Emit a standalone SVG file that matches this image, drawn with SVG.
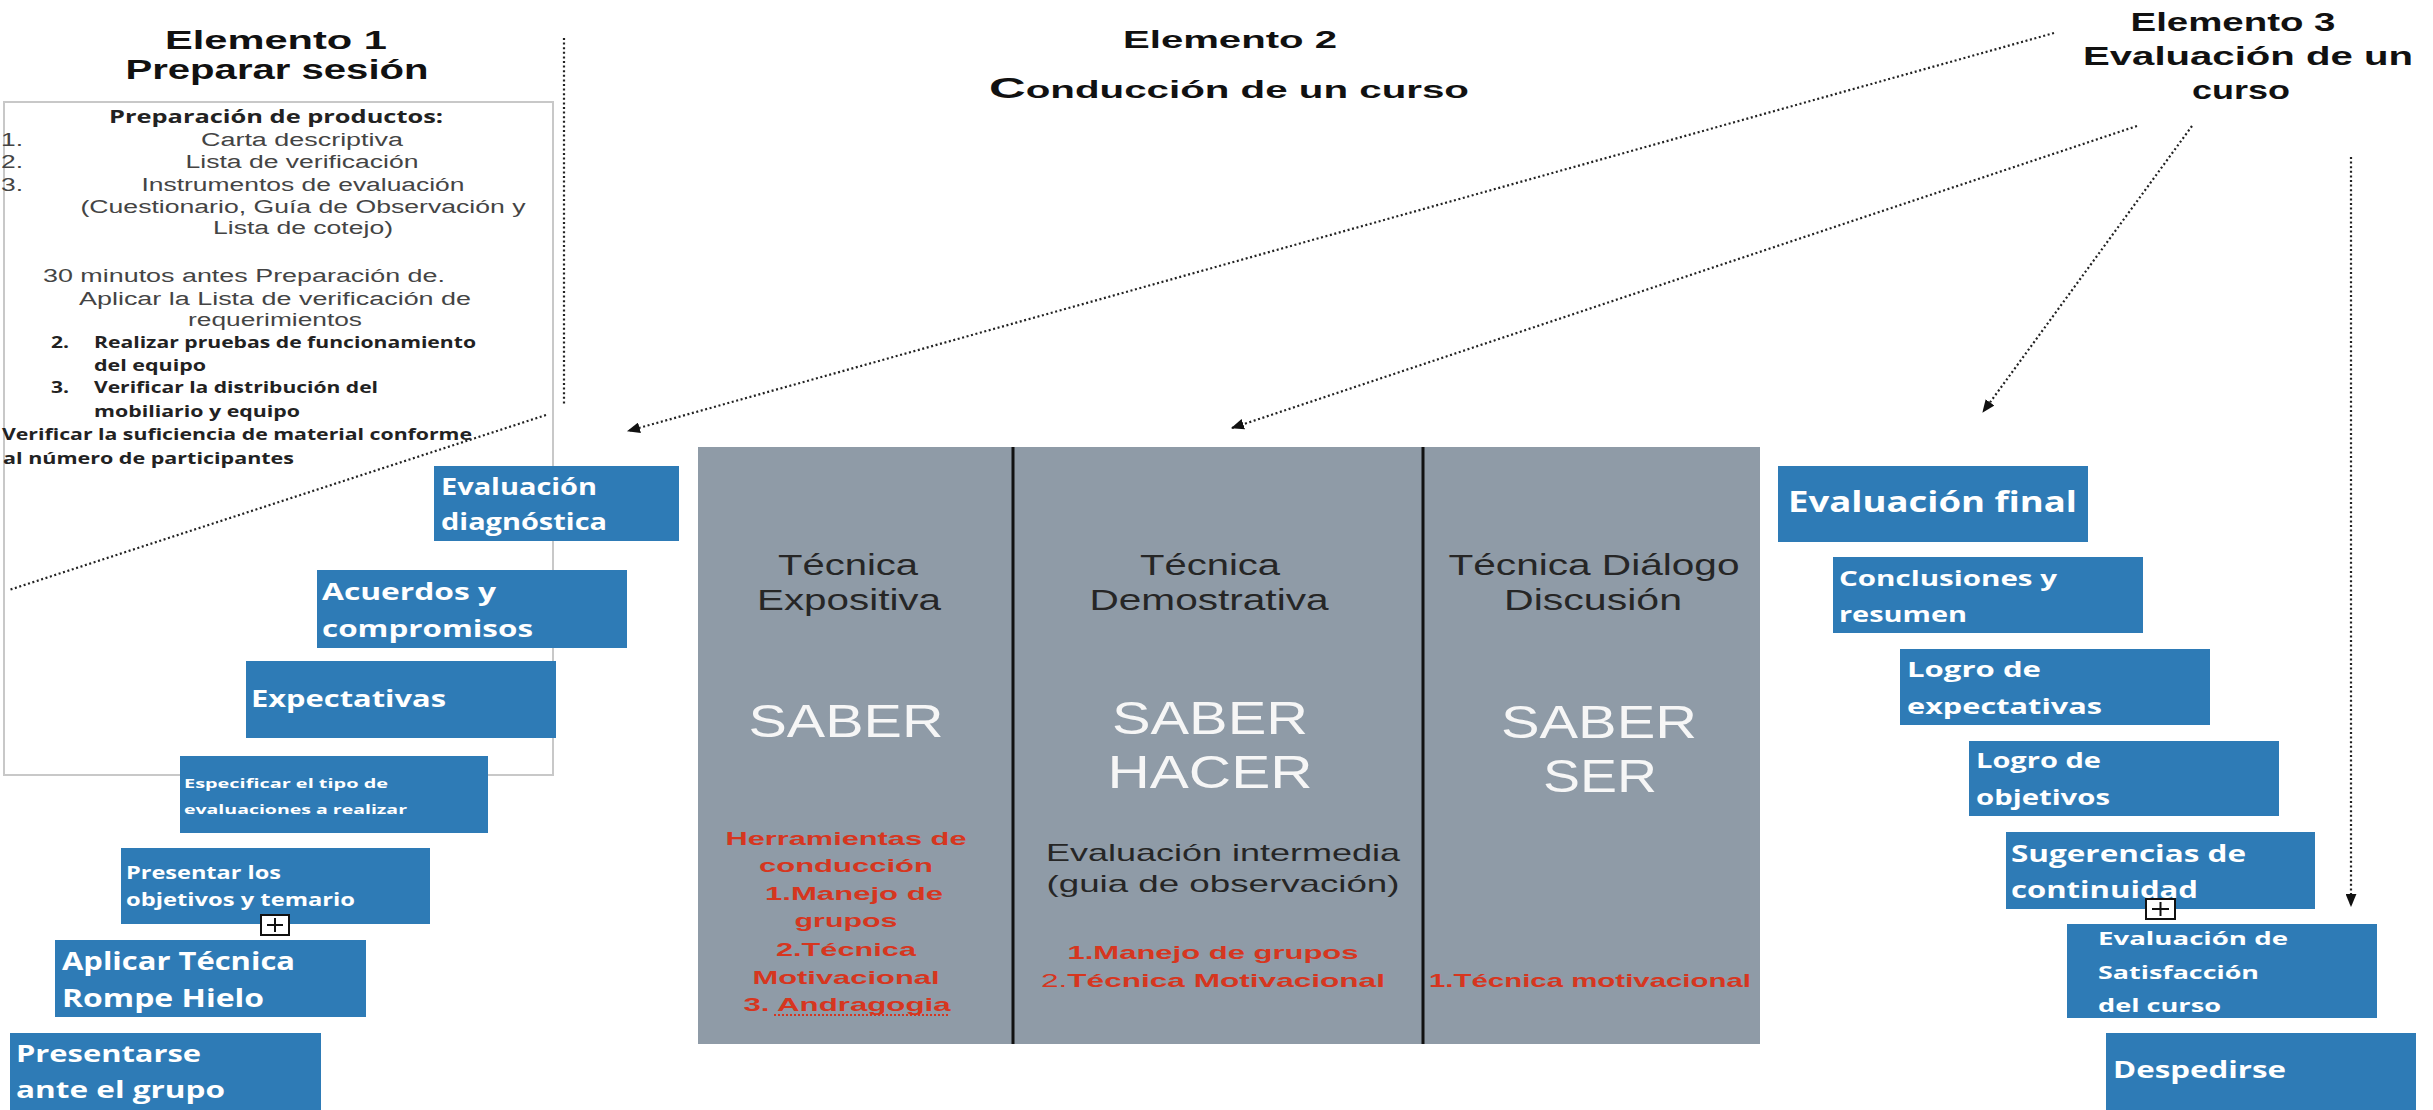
<svg xmlns="http://www.w3.org/2000/svg" width="2433" height="1110" viewBox="0 0 2433 1110">
<style>
text{font-family:"Liberation Sans",Arial,sans-serif}
.title{font-weight:bold;fill:#111}
.lst{font-size:18px;fill:#444}
.ob{font-family:"Open Sans","Liberation Sans",sans-serif;font-weight:700;fill:#222}
.blue{fill:#2e7bb6}
.bt{font-family:"Open Sans","Liberation Sans",sans-serif;font-weight:700;fill:#fff}
.tec{font-size:29px;fill:#262626}
.sab{font-size:46px;fill:#f6f6f6}
.red{font-weight:bold;fill:#d6361f;font-size:19px}
.dot{fill:none;stroke:#222;stroke-width:2.2;stroke-dasharray:2 2.6}
.icon{fill:#fff;stroke:#111;stroke-width:2}
</style>
<defs>
<marker id="ah" viewBox="0 0 12 10" refX="11" refY="5" markerWidth="13" markerHeight="11" markerUnits="userSpaceOnUse" orient="auto">
<path d="M0,0 L12,5 L0,10 z" fill="#111"/>
</marker>
</defs>
<rect x="0" y="0" width="2433" height="1110" fill="#fff"/>

<g id="elemento1">
<text class="title" x="276" y="49" font-size="26" text-anchor="middle" textLength="222" lengthAdjust="spacingAndGlyphs">Elemento 1</text>
<text class="title" x="277" y="79" font-size="27" text-anchor="middle" textLength="303" lengthAdjust="spacingAndGlyphs">Preparar sesión</text>
</g>

<g id="preparacion">
<rect x="4" y="102" width="549" height="673" fill="none" stroke="#c8c8c8" stroke-width="2"/>
<text class="ob" x="276" y="123" font-size="17" text-anchor="middle" textLength="334" lengthAdjust="spacingAndGlyphs">Preparación de productos:</text>
<text class="lst" x="1" y="146" textLength="22" lengthAdjust="spacingAndGlyphs">1.</text>
<text class="lst" x="302" y="146" text-anchor="middle" textLength="202" lengthAdjust="spacingAndGlyphs">Carta descriptiva</text>
<text class="lst" x="1" y="168" textLength="22" lengthAdjust="spacingAndGlyphs">2.</text>
<text class="lst" x="302" y="168" text-anchor="middle" textLength="233" lengthAdjust="spacingAndGlyphs">Lista de verificación</text>
<text class="lst" x="1" y="191" textLength="22" lengthAdjust="spacingAndGlyphs">3.</text>
<text class="lst" x="303" y="191" text-anchor="middle" textLength="323" lengthAdjust="spacingAndGlyphs">Instrumentos de evaluación</text>
<text class="lst" x="303" y="213" text-anchor="middle" textLength="445" lengthAdjust="spacingAndGlyphs">(Cuestionario, Guía de Observación y</text>
<text class="lst" x="303" y="234" text-anchor="middle" textLength="180" lengthAdjust="spacingAndGlyphs">Lista de cotejo)</text>
<text class="lst" x="244" y="282" text-anchor="middle" textLength="402" lengthAdjust="spacingAndGlyphs">30 minutos antes Preparación  de.</text>
<text class="lst" x="275" y="305" text-anchor="middle" textLength="392" lengthAdjust="spacingAndGlyphs">Aplicar la Lista de verificación de</text>
<text class="lst" x="275" y="326" text-anchor="middle" textLength="174" lengthAdjust="spacingAndGlyphs">requerimientos</text>
<text class="ob" x="51" y="348" font-size="16" textLength="18" lengthAdjust="spacingAndGlyphs">2.</text>
<text class="ob" x="94" y="348" font-size="16" textLength="382" lengthAdjust="spacingAndGlyphs">Realizar pruebas de funcionamiento</text>
<text class="ob" x="94" y="371" font-size="16" textLength="112" lengthAdjust="spacingAndGlyphs">del equipo</text>
<text class="ob" x="51" y="393" font-size="16" textLength="18" lengthAdjust="spacingAndGlyphs">3.</text>
<text class="ob" x="94" y="393" font-size="16" textLength="284" lengthAdjust="spacingAndGlyphs">Verificar la distribución del</text>
<text class="ob" x="94" y="417" font-size="16" textLength="206" lengthAdjust="spacingAndGlyphs">mobiliario y equipo</text>
<text class="ob" x="2" y="440" font-size="16" textLength="470" lengthAdjust="spacingAndGlyphs">Verificar la suficiencia de material conforme</text>
<text class="ob" x="3" y="464" font-size="16" textLength="291" lengthAdjust="spacingAndGlyphs">al número de participantes</text>
</g>

<g id="elemento2">
<text class="title" x="1230" y="48" font-size="23" text-anchor="middle" textLength="214" lengthAdjust="spacingAndGlyphs">Elemento 2</text>
<text class="title" x="1229" y="98" font-size="23" text-anchor="middle" textLength="480" lengthAdjust="spacingAndGlyphs"><tspan font-size="29">C</tspan>onducción de un curso</text>
</g>

<g id="elemento3">
<text class="title" x="2233" y="31" font-size="26" text-anchor="middle" textLength="205" lengthAdjust="spacingAndGlyphs">Elemento 3</text>
<text class="title" x="2248" y="65" font-size="26" text-anchor="middle" textLength="330" lengthAdjust="spacingAndGlyphs">Evaluación de un</text>
<text class="title" x="2241" y="99" font-size="26" text-anchor="middle" textLength="98" lengthAdjust="spacingAndGlyphs">curso</text>
</g>

<g id="tabla">
<rect x="698" y="447" width="1062" height="597" fill="#8f9ba7"/>
<line x1="1013" y1="447" x2="1013" y2="1044" stroke="#111" stroke-width="3"/>
<line x1="1423" y1="447" x2="1423" y2="1044" stroke="#111" stroke-width="3"/>
</g>

<g id="col-expositiva">
<text class="tec" x="848" y="575" text-anchor="middle" textLength="140" lengthAdjust="spacingAndGlyphs">Técnica</text>
<text class="tec" x="849" y="610" text-anchor="middle" textLength="184" lengthAdjust="spacingAndGlyphs">Expositiva</text>
<text class="sab" x="846" y="737" text-anchor="middle" textLength="195" lengthAdjust="spacingAndGlyphs">SABER</text>
<text class="red" x="846" y="845" text-anchor="middle" textLength="241" lengthAdjust="spacingAndGlyphs">Herramientas de</text>
<text class="red" x="846" y="872" text-anchor="middle" textLength="174" lengthAdjust="spacingAndGlyphs">conducción</text>
<text class="red" x="854" y="900" text-anchor="middle" textLength="178" lengthAdjust="spacingAndGlyphs">1.Manejo de</text>
<text class="red" x="846" y="927" text-anchor="middle" textLength="103" lengthAdjust="spacingAndGlyphs">grupos</text>
<text class="red" x="846" y="956" text-anchor="middle" textLength="140" lengthAdjust="spacingAndGlyphs">2.Técnica</text>
<text class="red" x="846" y="984" text-anchor="middle" textLength="187" lengthAdjust="spacingAndGlyphs">Motivacional</text>
<text class="red" x="847" y="1011" text-anchor="middle" textLength="207" lengthAdjust="spacingAndGlyphs">3. Andragogia</text>
<line x1="774" y1="1015" x2="950" y2="1015" stroke="#d6361f" stroke-width="2" stroke-dasharray="2 2"/>
</g>

<g id="col-demostrativa">
<text class="tec" x="1210" y="575" text-anchor="middle" textLength="140" lengthAdjust="spacingAndGlyphs">Técnica</text>
<text class="tec" x="1209" y="610" text-anchor="middle" textLength="239" lengthAdjust="spacingAndGlyphs">Demostrativa</text>
<text class="sab" x="1210" y="734" text-anchor="middle" textLength="196" lengthAdjust="spacingAndGlyphs">SABER</text>
<text class="sab" x="1210" y="788" text-anchor="middle" textLength="205" lengthAdjust="spacingAndGlyphs">HACER</text>
<text x="1223" y="861" font-size="24" fill="#262626" text-anchor="middle" textLength="354" lengthAdjust="spacingAndGlyphs">Evaluación intermedia</text>
<text x="1223" y="892" font-size="24" fill="#262626" text-anchor="middle" textLength="353" lengthAdjust="spacingAndGlyphs">(guia de observación)</text>
<text class="red" x="1213" y="959" font-size="21" text-anchor="middle" textLength="291" lengthAdjust="spacingAndGlyphs">1.Manejo de grupos</text>
<text class="red" x="1213" y="987" font-size="21" text-anchor="middle" textLength="344" lengthAdjust="spacingAndGlyphs"><tspan font-weight="normal">2.</tspan>Técnica  Motivacional</text>
</g>

<g id="col-dialogo">
<text class="tec" x="1594" y="575" text-anchor="middle" textLength="291" lengthAdjust="spacingAndGlyphs">Técnica Diálogo</text>
<text class="tec" x="1593" y="610" text-anchor="middle" textLength="178" lengthAdjust="spacingAndGlyphs">Discusión</text>
<text class="sab" x="1599" y="738" text-anchor="middle" textLength="196" lengthAdjust="spacingAndGlyphs">SABER</text>
<text class="sab" x="1600" y="792" text-anchor="middle" textLength="114" lengthAdjust="spacingAndGlyphs">SER</text>
<text class="red" x="1590" y="987" font-size="21" text-anchor="middle" textLength="322" lengthAdjust="spacingAndGlyphs">1.Técnica  motivacional</text>
</g>

<g id="evaluacion-diagnostica">
<rect class="blue" x="434" y="466" width="245" height="75"/>
<text class="bt" x="441" y="495" font-size="24" textLength="156" lengthAdjust="spacingAndGlyphs">Evaluación</text>
<text class="bt" x="441" y="530" font-size="24" textLength="166" lengthAdjust="spacingAndGlyphs">diagnóstica</text>
</g>
<g id="acuerdos">
<rect class="blue" x="317" y="570" width="310" height="78"/>
<text class="bt" x="322" y="600" font-size="24" textLength="174" lengthAdjust="spacingAndGlyphs">Acuerdos y</text>
<text class="bt" x="322" y="637" font-size="24" textLength="211" lengthAdjust="spacingAndGlyphs">compromisos</text>
</g>
<g id="expectativas">
<rect class="blue" x="246" y="661" width="310" height="77"/>
<text class="bt" x="251" y="707" font-size="24" textLength="195" lengthAdjust="spacingAndGlyphs">Expectativas</text>
</g>
<g id="especificar">
<rect class="blue" x="180" y="756" width="308" height="77"/>
<text class="bt" x="184" y="788" font-size="12" textLength="204" lengthAdjust="spacingAndGlyphs">Especificar el tipo de</text>
<text class="bt" x="184" y="814" font-size="12" textLength="223" lengthAdjust="spacingAndGlyphs">evaluaciones a realizar</text>
</g>
<g id="presentar-objetivos">
<rect class="blue" x="121" y="848" width="309" height="76"/>
<text class="bt" x="126" y="879" font-size="18" textLength="155" lengthAdjust="spacingAndGlyphs">Presentar los</text>
<text class="bt" x="126" y="906" font-size="18" textLength="229" lengthAdjust="spacingAndGlyphs">objetivos y temario</text>
<rect class="icon" x="261" y="915" width="28" height="20"/>
<path d="M267,925 H283 M275,918 V932" stroke="#111" stroke-width="2"/>
</g>
<g id="rompe-hielo">
<rect class="blue" x="55" y="940" width="311" height="77"/>
<text class="bt" x="62" y="970" font-size="25" textLength="233" lengthAdjust="spacingAndGlyphs">Aplicar Técnica</text>
<text class="bt" x="62" y="1007" font-size="25" textLength="202" lengthAdjust="spacingAndGlyphs">Rompe Hielo</text>
</g>
<g id="presentarse">
<rect class="blue" x="10" y="1033" width="311" height="77"/>
<text class="bt" x="16" y="1062" font-size="24" textLength="185" lengthAdjust="spacingAndGlyphs">Presentarse</text>
<text class="bt" x="16" y="1098" font-size="24" textLength="209" lengthAdjust="spacingAndGlyphs">ante el grupo</text>
</g>

<g id="evaluacion-final">
<rect class="blue" x="1778" y="466" width="310" height="76"/>
<text class="bt" x="1788" y="512" font-size="28" textLength="289" lengthAdjust="spacingAndGlyphs">Evaluación final</text>
</g>
<g id="conclusiones">
<rect class="blue" x="1833" y="557" width="310" height="76"/>
<text class="bt" x="1839" y="586" font-size="22" textLength="218" lengthAdjust="spacingAndGlyphs">Conclusiones y</text>
<text class="bt" x="1839" y="622" font-size="22" textLength="128" lengthAdjust="spacingAndGlyphs">resumen</text>
</g>
<g id="logro-expectativas">
<rect class="blue" x="1900" y="649" width="310" height="76"/>
<text class="bt" x="1907" y="677" font-size="22" textLength="134" lengthAdjust="spacingAndGlyphs">Logro de</text>
<text class="bt" x="1907" y="714" font-size="22" textLength="195" lengthAdjust="spacingAndGlyphs">expectativas</text>
</g>
<g id="logro-objetivos">
<rect class="blue" x="1969" y="741" width="310" height="75"/>
<text class="bt" x="1976" y="768" font-size="21" textLength="125" lengthAdjust="spacingAndGlyphs">Logro de</text>
<text class="bt" x="1976" y="805" font-size="21" textLength="134" lengthAdjust="spacingAndGlyphs">objetivos</text>
</g>
<g id="sugerencias">
<rect class="blue" x="2006" y="832" width="309" height="77"/>
<text class="bt" x="2011" y="862" font-size="24" textLength="235" lengthAdjust="spacingAndGlyphs">Sugerencias de</text>
<text class="bt" x="2011" y="898" font-size="24" textLength="187" lengthAdjust="spacingAndGlyphs">continuidad</text>
<rect class="icon" x="2146" y="899" width="29" height="20"/>
<path d="M2152,909 H2169 M2160.5,902 V916" stroke="#111" stroke-width="2"/>
</g>
<g id="satisfaccion">
<rect class="blue" x="2067" y="924" width="310" height="94"/>
<text class="bt" x="2098" y="945" font-size="17" textLength="190" lengthAdjust="spacingAndGlyphs">Evaluación de</text>
<text class="bt" x="2098" y="979" font-size="17" textLength="161" lengthAdjust="spacingAndGlyphs">Satisfacción</text>
<text class="bt" x="2098" y="1012" font-size="17" textLength="123" lengthAdjust="spacingAndGlyphs">del curso</text>
</g>
<g id="despedirse">
<rect class="blue" x="2106" y="1033" width="310" height="77"/>
<text class="bt" x="2113" y="1078" font-size="24" textLength="173" lengthAdjust="spacingAndGlyphs">Despedirse</text>
</g>

<g id="connectors">
<line class="dot" x1="564" y1="38" x2="564" y2="405"/>
<line class="dot" x1="546" y1="415" x2="9" y2="590"/>
<line class="dot" x1="2054" y1="33" x2="628" y2="431" marker-end="url(#ah)"/>
<line class="dot" x1="2137" y1="126" x2="1232" y2="428" marker-end="url(#ah)"/>
<line class="dot" x1="2192" y1="126" x2="1983" y2="412" marker-end="url(#ah)"/>
<line class="dot" x1="2351" y1="157" x2="2351" y2="906" marker-end="url(#ah)"/>
</g>
</svg>
